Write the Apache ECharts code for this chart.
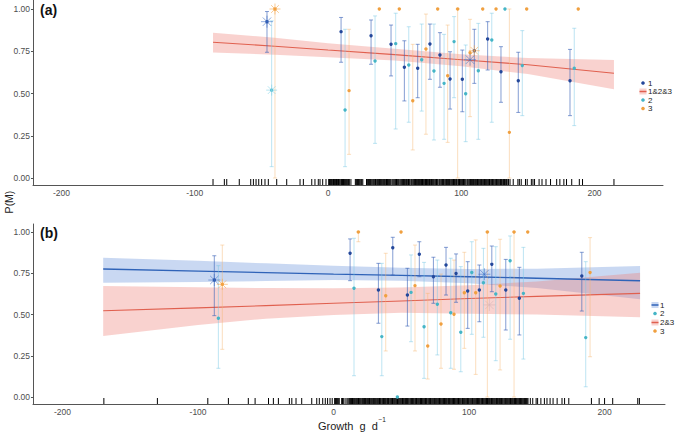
<!DOCTYPE html>
<html><head><meta charset="utf-8">
<script src="https://cdn.jsdelivr.net/npm/echarts@6/dist/echarts.min.js"></script>
<style>html,body{margin:0;padding:0;background:#fff}#c{width:677px;height:433px}</style>
</head><body><div id="c"></div>
<script>
// ---------- Panel (a) data: [growth, P(M), lower, upper] ----------
const a1 = [[-45.8,0.925,0.744,0.985],[9.8,0.866,0.685,0.95],[32.3,0.842,0.673,0.935],[47.3,0.791,0.604,0.905],
 [57.3,0.655,0.456,0.812],[67.3,0.649,0.475,0.791],[76.5,0.793,0.584,0.911],[84,0.728,0.537,0.86],
 [91.6,0.586,0.408,0.747],[100.8,0.584,0.392,0.757],[109.8,0.753,0.56,0.88],[119.8,0.822,0.639,0.925],
 [129.8,0.629,0.448,0.777],[142.8,0.576,0.388,0.744],[181.6,0.576,0.369,0.761]];
const a2 = [[-42.3,0.52,0.067,0.93],[12.8,0.402,0.067,0.88],[35.3,0.692,0.205,0.959],[50.8,0.795,0.29,0.975],
 [60.6,0.669,0.33,0.895],[70.3,0.70,0.396,0.911],[79.5,0.633,0.225,0.911],[87.1,0.56,0.229,0.85],
 [94.6,0.807,0.475,0.955],[103.3,0.499,0.215,0.787],[112.8,0.635,0.229,0.915],[122.9,0.817,0.33,0.975],
 [132.8,1.0,1.0,1.0],[145.8,0.665,0.369,0.872],[184.8,0.649,0.31,0.886]];
const a3 = [[-39.8,1.0,0.0,1.0],[15.8,0.517,0.14,0.88],[38.5,1.0,1.0,1.0],[53.5,1.0,1.0,1.0],
 [63.6,0.457,0.166,0.791],[73.5,0.763,0.259,0.97],[82.3,1.0,1.0,1.0],[89.8,0.605,0.211,0.905],
 [97.3,1.0,0.0,1.0],[106.6,0.741,0.363,0.939],[116.1,1.0,1.0,1.0],[126.1,1.0,1.0,1.0],
 [136.1,0.27,0.0,1.0],[149.1,1.0,1.0,1.0],[187.8,1.0,1.0,1.0]];
const aStar1 = [[-45.8,0.925],[106.6,0.70]];
const aStar2 = [[-42.3,0.52]];
const aStar3 = [[-39.8,1.0],[109.8,0.753]];
// fitted 1&2&3
const aFitX  = [-86.3,-40,0,50,100,150,214.6];
const aFitY  = [0.803,0.78,0.757,0.73,0.70,0.67,0.62];
const aFitLo = [0.742,0.73,0.714,0.695,0.662,0.615,0.525];
const aFitHi = [0.86,0.83,0.797,0.765,0.732,0.71,0.698];
const aRug = [-86.3,-77.8,-76,-66.6,-58,-56,-54,-52,-49.8,-47.3,-44.8,-38.5,-31,-21,-18.5,-12.2,-9.8,-7.3,-6,-4,-1.5,
 0.5,1.8,3.0,4.1,5.5,6.4,7.9,9.0,10.2,11.6,13.0,14.1,15.3,17.2,20.5,21.6,22.8,24.0,25.3,26.1,28.9,30.2,31.0,32.4,
 33.8,35.1,36.0,37.3,38.7,40.0,41.2,42.5,43.3,44.6,46.0,47.2,48.1,49.5,50.8,52.0,53.3,54.1,55.4,56.7,57.9,59.0,
 60.4,61.6,62.5,63.8,65.0,66.3,67.4,68.6,69.5,70.9,72.1,73.2,74.5,75.6,76.8,77.7,79.0,80.3,81.4,82.6,83.5,84.8,
 86.0,87.1,88.4,89.6,90.5,91.7,93.0,94.2,95.3,96.5,97.4,98.7,100.0,101.1,102.3,103.6,104.5,105.8,107.0,108.2,
 109.1,110.5,111.6,112.8,114.0,115.1,116.3,117.4,118.8,120.0,121.2,122.1,123.5,124.6,125.9,127.0,128.2,129.5,
 130.6,131.8,133.0,134.1,135.5,136.6,139.0,142.5,143.6,145.0,148.2,149.5,152.6,153.8,155.0,158.4,160.6,163.6,
 167.0,171.6,174.0,177.0,179.0,182.9,188.6,191.0,214.6,
 1.1,2.5,3.6,4.8,6.0,7.2,8.4,9.7,10.9,12.3,13.6,14.8,16.0,21.1,22.2,23.4,24.7,29.5,30.7,31.8,33.1,34.4,35.6,36.7,
 38.0,39.3,40.6,41.8,43.9,45.3,46.6,48.8,50.2,51.4,52.7,54.8,56.0,57.3,58.5,59.8,61.0,63.1,64.4,65.7,66.9,68.0,
 70.2,71.5,72.7,73.9,75.0,76.2,78.3,79.6,80.9,82.0,84.1,85.4,86.6,87.8,89.0,91.1,92.4,93.6,94.8,95.9,98.0,99.3,
 100.6,101.7,102.9,105.1,106.4,107.6,108.7,109.8,111.0,112.2,113.4,114.6,115.7,116.9,118.1,119.4,120.6,122.8,
 124.0,125.3,126.5,127.6,128.9,130.1,131.3,132.5,133.7,135.0];

// ---------- Panel (b) data ----------
const b1 = [[-88,0.709,0.493,0.856],[12.2,0.871,0.705,0.958],[33.1,0.648,0.447,0.81],[43.7,0.905,0.739,0.968],
 [54.5,0.618,0.43,0.78],[63.3,0.865,0.729,0.941],[73.7,0.729,0.568,0.847],[83,0.80,0.618,0.907],
 [90.4,0.749,0.574,0.867],[99,0.642,0.416,0.82],[107.6,0.648,0.456,0.80],[116.8,0.804,0.638,0.915],
 [127.1,0.648,0.406,0.834],[137.1,0.598,0.376,0.786],[183.2,0.733,0.521,0.877]];
const b2 = [[-85,0.477,0.174,0.796],[15.1,0.659,0.129,0.962],[35.6,0.366,0.129,0.81],[47.1,0.0,0.0,0.0],
 [57.2,0.634,0.335,0.861],[66.8,0.426,0.113,0.816],[76.6,0.562,0.255,0.83],[86.5,0.511,0.174,0.841],
 [93.9,0.392,0.153,0.79],[102,0.755,0.38,0.941],[110.6,0.693,0.362,0.901],[119.7,0.624,0.22,0.911],
 [130.3,0.826,0.35,0.976],[140.1,0.628,0.23,0.907],[186.1,0.36,0.062,0.82]];
const b3 = [[-82.1,0.683,0.289,0.921],[18.3,1.0,0.941,1.0],[38.5,0.614,0.279,0.871],[49.8,1.0,1.0,1.0],
 [60.1,0.675,0.279,0.921],[69.5,0.309,0.109,0.628],[79.3,0.442,0.174,0.745],[88.9,0.501,0.168,0.83],
 [96.5,0.632,0.295,0.877],[104.9,0.632,0.137,0.952],[113.5,1.0,0.0,1.0],[122.9,0.673,0.164,0.956],
 [133.2,1.0,0.0,1.0],[143.3,1.0,1.0,1.0],[189.3,0.754,0.244,0.966]];
const bStar1 = [[-88,0.709],[111.3,0.744]];
const bStar23 = [[115,0.558]];
const bStar3 = [[-82.1,0.683]];
const bFitX  = [-170,-100,-50,0,50,100,150,226.2];
const b1FitY  = [0.776,0.763,0.754,0.745,0.737,0.729,0.72,0.705];
const b1FitLo = [0.693,0.697,0.703,0.709,0.705,0.689,0.66,0.592];
const b1FitHi = [0.844,0.826,0.81,0.796,0.783,0.776,0.778,0.794];
const b23FitY  = [0.523,0.54,0.554,0.568,0.582,0.597,0.61,0.628];
const b23FitLo = [0.37,0.436,0.475,0.497,0.51,0.505,0.50,0.483];
const b23FitHi = [0.673,0.665,0.66,0.659,0.664,0.677,0.70,0.753];
const bRug = [-169.5,-130,-92.8,-77.6,-62.9,-57.9,-48,-44.4,-40.7,-32.6,-30.8,-27.7,-23.5,-16.1,-12.4,-10.5,-8.0,-6.1,-4.4,-2.6,-1.0,
 0.8,2.1,3.5,6.0,7.2,9.9,11.5,12.6,14.0,15.3,16.5,17.8,19.0,20.2,21.5,22.9,24.0,25.2,26.5,27.8,29.0,30.1,31.4,32.6,
 33.9,35.0,36.3,37.5,38.6,39.9,41.0,42.3,43.5,44.8,46.0,47.2,48.4,49.6,50.9,52.1,53.2,54.5,55.7,57.0,58.2,59.3,
 60.6,61.8,63.1,64.2,65.5,66.7,67.9,69.0,70.3,71.5,72.8,74.0,75.1,76.4,77.6,78.8,80.0,81.2,82.5,83.6,84.9,86.1,
 87.3,88.5,89.8,91.0,92.2,93.4,94.7,95.8,97.1,98.3,99.5,100.8,102.0,103.1,104.4,105.6,106.9,108.0,109.3,110.5,
 111.7,112.9,114.2,115.3,116.6,117.8,119.0,120.3,121.5,122.6,123.9,125.1,126.4,127.5,128.8,130.0,131.2,132.5,
 133.6,134.9,136.1,137.3,138.6,139.8,141.0,142.3,143.5,145.2,147.0,149.5,150.6,153.0,155.6,157.5,159.8,162.0,
 165.0,168.6,170.5,173.6,190.3,196.0,200.0,206.0,224.5,225.7,
 1.5,2.8,4.2,6.6,8.5,10.7,12.0,13.3,14.6,15.9,17.1,18.4,19.6,20.9,22.2,23.5,24.6,25.9,27.1,28.4,29.6,30.8,32.0,
 33.3,34.5,35.7,36.9,38.1,39.3,40.5,41.7,42.9,44.1,45.4,46.6,47.8,49.0,50.3,51.5,52.7,53.9,55.1,56.4,57.6,58.8,
 60.0,61.2,62.5,63.7,64.9,66.1,67.3,68.5,69.7,70.9,72.1,73.4,74.6,75.8,77.0,78.2,79.4,80.6,81.9,83.1,84.3,85.5,
 86.7,87.9,89.2,90.4,91.6,92.8,94.0,95.2,96.5,97.7,98.9,100.1,101.4,102.6,103.8,105.0,106.2,107.5,108.7,109.9,
 111.1,112.3,113.6,114.8,116.0,117.2,118.4,119.7,120.9,122.1,123.3,124.5,125.8,127.0,128.2,129.4,130.6,131.9,
 133.1,134.3,135.5,136.7,138.0,139.2,140.4,141.6,142.9];

const xTicks = [-200,-100,0,100,200];
const yTicks = [0,0.25,0.5,0.75,1];

// ---------- styling ----------
const FONT = 'Liberation Sans, Arial, Helvetica, sans-serif';
const C1 = '#23479a', C1bar = 'rgba(60,100,185,0.7)';
const C2 = '#45b5c6', C2bar = 'rgba(120,200,228,0.55)';
const C3 = '#f0a040', C3bar = 'rgba(246,182,110,0.5)';
const RED = '#e0604f', REDBAND = 'rgba(238,127,117,0.35)';
const BLUE = '#2f63b8', BLUEBAND = 'rgba(90,136,216,0.33)';
const STAR = 'path://M6,0L6,12M0,6L12,6M1.8,1.8L10.2,10.2M1.8,10.2L10.2,1.8';

function errSeries(data, color, gi){
  return {type:'custom', xAxisIndex:gi, yAxisIndex:gi, data:data, silent:true, z:3,
    encode:{x:0, y:[2,3]},
    renderItem:function(params, api){
      const x = api.value(0), lo = api.value(2), hi = api.value(3);
      if (hi - lo < 1e-6) return null;
      const p1 = api.coord([x, lo]), p2 = api.coord([x, hi]), w = 2;
      const st = {stroke:color, lineWidth:0.9};
      return {type:'group', children:[
        {type:'line', shape:{x1:p1[0],y1:p1[1],x2:p2[0],y2:p2[1]}, style:st},
        {type:'line', shape:{x1:p1[0]-w,y1:p1[1],x2:p1[0]+w,y2:p1[1]}, style:st},
        {type:'line', shape:{x1:p2[0]-w,y1:p2[1],x2:p2[0]+w,y2:p2[1]}, style:st}
      ]};
    }};
}
function ptSeries(name, data, color, gi){
  return {type:'scatter', name:name, xAxisIndex:gi, yAxisIndex:gi, data:data.map(d=>[d[0],d[1]]),
    symbol:'circle', symbolSize:3.4, itemStyle:{color:color, opacity:1}, z:5, silent:true};
}
function starSeries(data, color, gi, size){
  return {type:'scatter', xAxisIndex:gi, yAxisIndex:gi, data:data, symbol:STAR, symbolSize:size||11,
    itemStyle:{color:'rgba(0,0,0,0)', borderColor:color, borderWidth:0.7}, z:6, silent:true};
}
function bandSeries(xs, lo, hi, color, gi){
  const rows = xs.map((x,i)=>[x, lo[i], hi[i]]);
  return {type:'custom', xAxisIndex:gi, yAxisIndex:gi, data:rows, silent:true, z:1,
    encode:{x:0, y:[1,2]},
    renderItem:function(params, api){
      if (params.dataIndex !== 0) return null;
      const pts = [];
      rows.forEach(r=>pts.push(api.coord([r[0], r[2]])));
      for (let i=rows.length-1;i>=0;i--) pts.push(api.coord([rows[i][0], rows[i][1]]));
      return {type:'polygon', shape:{points:pts}, style:{fill:color}};
    }};
}
function lineSeries(name, xs, ys, color, gi, w){
  return {type:'line', name:name, xAxisIndex:gi, yAxisIndex:gi, data:xs.map((x,i)=>[x, ys[i]]),
    showSymbol:false, lineStyle:{color:color, width:w}, z:2, silent:true};
}
function rugSeries(xs, gi){
  return {type:'custom', xAxisIndex:gi, yAxisIndex:gi, data:xs.map(x=>[x]), silent:true, z:4,
    progressive:0, encode:{x:0},
    renderItem:function(params, api){
      const p = api.coord([api.value(0), 0]);
      const cs = params.coordSys;
      const yb = cs.y + cs.height;
      return {type:'line', shape:{x1:p[0], y1:yb, x2:p[0], y2:yb-6}, style:{stroke:'#000', lineWidth:1}};
    }};
}

const yMinA = -0.0414, yMaxA = 1.0533, yMinB = -0.0424, yMaxB = 1.0485;
function xAx(gi, min, max){
  return {gridIndex:gi, type:'value', min:min, max:max, splitLine:{show:false},
    axisLine:{show:true, onZero:false, lineStyle:{color:'#555', width:1}}, axisTick:{show:false},
    axisLabel:{customValues:xTicks, fontSize:8.5, color:'#4d4d4d', fontFamily:FONT, margin:3}};
}
function yAx(gi, min, max){
  return {gridIndex:gi, type:'value', min:min, max:max, splitLine:{show:false},
    axisLine:{show:true, onZero:false, lineStyle:{color:'#555', width:1}},
    axisTick:{show:true, customValues:yTicks, length:2, lineStyle:{color:'#555'}},
    axisLabel:{customValues:yTicks, fontSize:8.5, color:'#4d4d4d', fontFamily:FONT, margin:3,
      formatter:v=>v.toFixed(2)}};
}

const chart = echarts.init(document.getElementById('c'), null, {renderer:'svg'});
const txt = (t, x, y, o) => Object.assign({type:'text', x:x, y:y, style:Object.assign({text:t, fontFamily:FONT, fontSize:8, fill:'#222', textVerticalAlign:'middle'}, o||{})});
chart.setOption({
  animation:false,
  backgroundColor:'#fff',
  grid:[{left:33, top:0, width:630, height:185}, {left:33, top:224, width:632, height:180}],
  xAxis:[xAx(0,-221.4,251.4), xAx(1,-221.8,244.6)],
  yAxis:[yAx(0,yMinA,yMaxA), yAx(1,yMinB,yMaxB)],
  series:[
    bandSeries(aFitX, aFitLo, aFitHi, REDBAND, 0),
    lineSeries('1&2&3', aFitX, aFitY, RED, 0, 1.1),
    errSeries(a2, C2bar, 0), errSeries(a3, C3bar, 0), errSeries(a1, C1bar, 0),
    ptSeries('2', a2, C2, 0), ptSeries('3', a3, C3, 0), ptSeries('1', a1, C1, 0),
    starSeries(aStar1, '#3a6cc4', 0, 12), starSeries(aStar2, '#7fd3e6', 0, 11), starSeries(aStar3, '#f5a142', 0, 11),
    rugSeries(aRug, 0),

    bandSeries(bFitX, b1FitLo, b1FitHi, BLUEBAND, 1),
    bandSeries(bFitX, b23FitLo, b23FitHi, REDBAND, 1),
    lineSeries('1', bFitX, b1FitY, BLUE, 1, 1.4),
    lineSeries('2&3', bFitX, b23FitY, RED, 1, 1.1),
    errSeries(b2, C2bar, 1), errSeries(b3, C3bar, 1), errSeries(b1, C1bar, 1),
    ptSeries('2', b2, C2, 1), ptSeries('3', b3, C3, 1), ptSeries('1', b1, C1, 1),
    starSeries(bStar1, '#3a6cc4', 1, 12), starSeries(bStar3, '#f5a142', 1, 11), starSeries(bStar23, '#d4b4b8', 1, 12),
    rugSeries(bRug, 1)
  ],
  graphic:[
    txt('(a)', 40, 10, {fontSize:14, fontWeight:'bold', fill:'#111'}),
    txt('(b)', 40, 233, {fontSize:14, fontWeight:'bold', fill:'#111'}),
    {type:'text', x:9, y:202, rotation:Math.PI/2, style:{text:'P(M)', fontFamily:FONT, fontSize:10.5, fill:'#222', textAlign:'center', textVerticalAlign:'middle'}},
    txt('Growth  g  d', 318, 426, {fontSize:11}),
    txt('\u22121', 378.5, 419.5, {fontSize:6.5}),
    // legend (a)
    {type:'circle', shape:{cx:643, cy:83, r:1.8}, style:{fill:C1}},
    txt('1', 648, 83),
    {type:'rect', shape:{x:639.5, y:88.5, width:7, height:6}, style:{fill:REDBAND}},
    {type:'line', shape:{x1:639.5, y1:91.5, x2:646.5, y2:91.5}, style:{stroke:RED, lineWidth:1.5}},
    txt('1&2&3', 648, 91.5),
    {type:'circle', shape:{cx:643, cy:100, r:1.8}, style:{fill:C2}},
    txt('2', 648, 100),
    {type:'circle', shape:{cx:643, cy:108.5, r:1.8}, style:{fill:C3}},
    txt('3', 648, 108.5),
    // legend (b)
    {type:'rect', shape:{x:651.5, y:302, width:7, height:6}, style:{fill:BLUEBAND}},
    {type:'line', shape:{x1:651.5, y1:305, x2:658.5, y2:305}, style:{stroke:BLUE, lineWidth:1.5}},
    txt('1', 660, 305),
    {type:'circle', shape:{cx:655, cy:313.5, r:1.8}, style:{fill:C2}},
    txt('2', 660, 313.5),
    {type:'rect', shape:{x:651.5, y:319.5, width:7, height:6}, style:{fill:REDBAND}},
    {type:'line', shape:{x1:651.5, y1:322.5, x2:658.5, y2:322.5}, style:{stroke:RED, lineWidth:1.5}},
    txt('2&3', 660, 322.5),
    {type:'circle', shape:{cx:655, cy:331, r:1.8}, style:{fill:C3}},
    txt('3', 660, 331)
  ]
});
</script>
</body></html>
